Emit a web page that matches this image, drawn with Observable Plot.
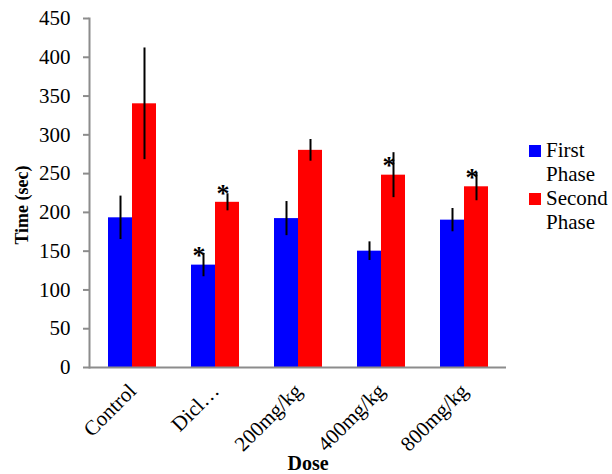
<!DOCTYPE html>
<html><head><meta charset="utf-8">
<script src="https://cdn.jsdelivr.net/npm/d3@7"></script>
<script src="https://cdn.jsdelivr.net/npm/@observablehq/plot@0.6"></script>
<style>
body{margin:0;background:#fff;}
#wrap{position:relative;width:612px;height:474px;overflow:hidden;font-family:"Liberation Serif","Times New Roman",serif;}
#wrap svg{position:absolute;left:0;top:0;}
.legend{position:absolute;left:529px;top:138px;font-size:21px;line-height:24px;color:#000;}
.legend .row{display:flex;align-items:flex-start;}
.legend .sw{width:12px;height:12px;margin-top:7px;margin-right:5px;flex:none;}
.legend .lab{width:66px;white-space:normal;}
.ylab{position:absolute;left:22px;top:205px;transform:translate(-50%,-50%) rotate(-90deg);font-size:18px;font-weight:bold;white-space:nowrap;}
.xlab{position:absolute;left:308px;top:463px;transform:translate(-50%,-50%);font-size:20px;font-weight:bold;white-space:nowrap;}
</style></head><body><div id="wrap"></div>
<script>
const doses = ["Control", "Dicl…", "200mg/kg", "400mg/kg", "800mg/kg"];
const phases = ["First Phase", "Second Phase"];
const phaseColors = ["#0000ff", "#ff0000"];
const firstMean = [193, 132, 192, 150, 190];
const firstErr = [28, 15, 22, 12, 15];
const secondMean = [340, 213, 280, 248, 233];
const secondErr = [72, 11, 14, 29, 18];
const firstStar = [false, true, false, false, false];
const secondStar = [false, true, false, true, true];
const yTicks = [0, 50, 100, 150, 200, 250, 300, 350, 400, 450];
const yLabel = "Time (sec)";
const xLabel = "Dose";

const first = doses.map((d, i) => ({dose: d, v: firstMean[i], e: firstErr[i], star: firstStar[i]}));
const second = doses.map((d, i) => ({dose: d, v: secondMean[i], e: secondErr[i], star: secondStar[i]}));

const axisColor = "#8c8c8c";
const shadow = "drop-shadow(1px 1px 1px rgba(0,0,0,0.25))";

const chart = Plot.plot({
  width: 612,
  height: 474,
  marginLeft: 89,
  marginRight: 106,
  marginTop: 18,
  marginBottom: 107,
  style: {fontFamily: "Liberation Serif, Times New Roman, serif", fontSize: "21px", background: "transparent", color: "#000"},
  x: {domain: doses, paddingInner: 0.4245, paddingOuter: 0.212},
  y: {domain: [0, 450]},
  marks: [
    Plot.barY(first, {x: "dose", y: "v", fill: phaseColors[0], insetRight: 24, insetLeft: 0, style: {filter: shadow}}),
    Plot.barY(second, {x: "dose", y: "v", fill: phaseColors[1], insetLeft: 24, insetRight: 0, style: {filter: shadow}}),
    Plot.ruleX(first, {x: "dose", y1: d => d.v - d.e, y2: d => d.v + d.e, dx: -12, stroke: "#000", strokeWidth: 2}),
    Plot.ruleX(second, {x: "dose", y1: d => d.v - d.e, y2: d => d.v + d.e, dx: 12, stroke: "#000", strokeWidth: 2}),
    Plot.text(first.filter(d => d.star), {x: "dose", y: "v", text: () => "*", dx: -16.5, dy: -9, fontSize: 26, fontWeight: "bold"}),
    Plot.text(second.filter(d => d.star), {x: "dose", y: "v", text: () => "*", dx: 7.5, dy: -9, fontSize: 26, fontWeight: "bold"}),
    Plot.ruleY([0], {stroke: axisColor, strokeWidth: 2}),
    Plot.frame({anchor: "left", stroke: axisColor, strokeWidth: 2}),
    Plot.axisY({ticks: yTicks, tickSize: 6, tickPadding: 13, stroke: axisColor, strokeWidth: 2, fontSize: 21, label: null}),
    Plot.axisX({tickSize: 0, tickRotate: -45, tickPadding: 20, fontSize: 21, label: null})
  ]
});
const wrap = document.getElementById("wrap");
wrap.appendChild(chart);

const legend = document.createElement("div");
legend.className = "legend";
phases.forEach((p, i) => {
  const row = document.createElement("div");
  row.className = "row";
  const sw = document.createElement("div");
  sw.className = "sw";
  sw.style.background = phaseColors[i];
  const lab = document.createElement("div");
  lab.className = "lab";
  lab.textContent = p;
  row.appendChild(sw); row.appendChild(lab);
  legend.appendChild(row);
});
wrap.appendChild(legend);

const yl = document.createElement("div");
yl.className = "ylab"; yl.textContent = yLabel; wrap.appendChild(yl);
const xl = document.createElement("div");
xl.className = "xlab"; xl.textContent = xLabel; wrap.appendChild(xl);
</script></body></html>
